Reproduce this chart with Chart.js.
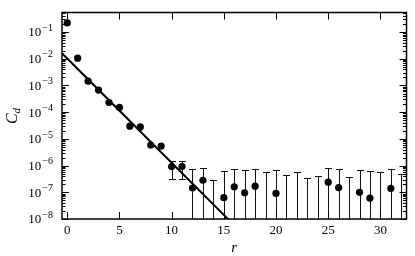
<!DOCTYPE html>
<html>
<head>
<meta charset="utf-8">
<script src="https://cdn.jsdelivr.net/npm/chart.js@4/dist/chart.umd.min.js"></script>
<style>
  html, body { margin: 0; padding: 0; background: #fff; }
  #wrap { width: 415px; height: 256px; }
</style>
</head>
<body>
<div id="wrap"><canvas id="chart" width="415" height="256"></canvas></div>
<script>
// distance r and correlation C_d (null = not plotted on log axis)
const rValues = [0, 1, 2, 3, 4, 5, 6, 7, 8, 9, 10, 11, 12, 13, 14, 15, 16,
  17, 18, 19, 20, 21, 22, 23, 24, 25, 26, 27, 28, 29, 30, 31, 32];
const cdValues = [0.22, 1.05e-2, 1.45e-3, 6.7e-4, 2.3e-4, 1.5e-4, 3.0e-5, 2.8e-5,
  5.9e-6, 5.4e-6, 9.2e-7, 9.2e-7, 1.45e-7, 2.8e-7, null, 6.3e-8, 1.6e-7,
  9.6e-8, 1.7e-7, null, 9.1e-8, null, null, null, null, 2.4e-7, 1.5e-7,
  null, 1.0e-7, 6.0e-8, null, 1.4e-7, null];
const errUpper = [null, null, null, null, null, null, null, null, null, null,
  1.48e-6, 1.48e-6, 7.2e-7, 8.3e-7, 3.0e-7, 6.4e-7, 7.4e-7, 6.8e-7, 7.6e-7,
  5.6e-7, 6.6e-7, 4.3e-7, 5.9e-7, 3.5e-7, 4.1e-7, 8.3e-7, 7.2e-7, 3.6e-7,
  6.9e-7, 6.4e-7, 5.9e-7, 7.2e-7, 4.8e-7];
const errLower = [null, null, null, null, null, null, null, null, null, null,
  3.1e-7, 3.1e-7, 1e-9, 1e-9, 1e-9, 1e-9, 1e-9, 1e-9, 1e-9, 1e-9, 1e-9,
  1e-9, 1e-9, 1e-9, 1e-9, 1e-9, 1e-9, 1e-9, 1e-9, 1e-9, 1e-9, 1e-9, 1e-9];

// fitted exponential decay (end points)
const fitR = [-0.5, 16];
const fitCd = [1.6e-2, 5.8e-9];

const xTicks = [0, 5, 10, 15, 20, 25, 30];
const xTickLabels = ['0', '5', '10', '15', '20', '25', '30'];
const yTicks = [1e-8, 1e-7, 1e-6, 1e-5, 1e-4, 1e-3, 1e-2, 1e-1];
const yTickExponents = ['\u22128', '\u22127', '\u22126', '\u22125', '\u22124', '\u22123', '\u22122', '\u22121'];

const SERIF = '"Liberation Serif", "DejaVu Serif", serif';

const axesPlugin = {
  id: 'axesPlugin',
  beforeDatasetsDraw(chart) {
    const { ctx, chartArea: a, scales: { x, y } } = chart;
    ctx.save();
    ctx.beginPath();
    ctx.rect(a.left, a.top, a.right - a.left, a.bottom - a.top);
    ctx.clip();
    ctx.strokeStyle = '#111';
    ctx.lineWidth = 1;
    rValues.forEach((r, i) => {
      if (errUpper[i] == null) return;
      const px = Math.round(x.getPixelForValue(r)) + 0.5;
      const top = Math.round(y.getPixelForValue(errUpper[i])) + 0.5;
      const bot = Math.round(y.getPixelForValue(errLower[i])) + 0.5;
      ctx.beginPath();
      ctx.moveTo(px, top); ctx.lineTo(px, bot);
      ctx.moveTo(px - 3.5, top); ctx.lineTo(px + 3.5, top);
      ctx.moveTo(px - 3.5, bot); ctx.lineTo(px + 3.5, bot);
      ctx.stroke();
    });
    ctx.restore();
  },
  afterDraw(chart) {
    const { ctx, chartArea: a, scales: { x, y } } = chart;
    ctx.save();
    ctx.strokeStyle = '#000';

    // inside ticks
    ctx.lineWidth = 1;
    ctx.beginPath();
    xTicks.forEach(v => {
      const px = Math.round(x.getPixelForValue(v)) + 0.5;
      ctx.moveTo(px, a.bottom); ctx.lineTo(px, a.bottom - 7);
      ctx.moveTo(px, a.top); ctx.lineTo(px, a.top + 7);
    });
    yTicks.forEach(v => {
      const py = Math.round(y.getPixelForValue(v)) + 0.5;
      ctx.moveTo(a.left, py); ctx.lineTo(a.left + 7, py);
      ctx.moveTo(a.right, py); ctx.lineTo(a.right - 7, py);
      for (let m = 2; m <= 9; m++) {
        const mv = m * v;
        if (mv > y.max) break;
        const my = Math.round(y.getPixelForValue(mv)) + 0.5;
        ctx.moveTo(a.left, my); ctx.lineTo(a.left + 3.5, my);
        ctx.moveTo(a.right, my); ctx.lineTo(a.right - 3.5, my);
      }
    });
    ctx.stroke();

    // frame
    ctx.lineWidth = 1.5;
    ctx.strokeRect(a.left, a.top, a.right - a.left, a.bottom - a.top);

    // tick labels
    ctx.fillStyle = '#000';
    ctx.font = '13px ' + SERIF;
    ctx.textAlign = 'center';
    ctx.textBaseline = 'middle';
    xTicks.forEach((v, i) => {
      ctx.fillText(xTickLabels[i], x.getPixelForValue(v), a.bottom + 12);
    });

    yTicks.forEach((v, i) => {
      const py = y.getPixelForValue(v);
      ctx.font = '10px ' + SERIF;
      const we = ctx.measureText(yTickExponents[i]).width;
      ctx.font = '13px ' + SERIF;
      const wb = ctx.measureText('10').width;
      const x0 = a.left - 10 - we - wb;
      ctx.textAlign = 'left';
      ctx.fillText('10', x0, py + 1);
      ctx.font = '10px ' + SERIF;
      ctx.fillText(yTickExponents[i], x0 + wb + 1, py - 4);
    });

    // axis titles
    ctx.textAlign = 'center';
    ctx.font = 'italic 15px ' + SERIF;
    ctx.fillText('r', (a.left + a.right) / 2, a.bottom + 29);

    ctx.translate(13, (a.top + a.bottom) / 2);
    ctx.rotate(-Math.PI / 2);
    ctx.font = 'italic 16px ' + SERIF;
    const wc = ctx.measureText('C').width;
    ctx.textAlign = 'left';
    ctx.fillText('C', -wc / 2 - 3, 0);
    ctx.font = 'italic 11px ' + SERIF;
    ctx.fillText('d', wc / 2 - 3, 4);
    ctx.restore();
  }
};

const points = [];
rValues.forEach((r, i) => {
  if (cdValues[i] != null) points.push({ x: r, y: cdValues[i] });
});

new Chart(document.getElementById('chart'), {
  type: 'scatter',
  data: {
    datasets: [
      {
        label: 'fit',
        type: 'line',
        data: fitR.map((r, i) => ({ x: r, y: fitCd[i] })),
        borderColor: '#000',
        borderWidth: 2,
        pointRadius: 0,
        fill: false,
        order: 2,
      },
      {
        label: 'C_d',
        data: points,
        backgroundColor: '#000',
        borderWidth: 0,
        pointRadius: 3.6,
        order: 1,
      },
    ],
  },
  options: {
    responsive: false,
    animation: false,
    layout: { padding: { left: 62, top: 12.5, right: 8.5, bottom: 37 } },
    plugins: { legend: { display: false }, tooltip: { enabled: false } },
    scales: {
      x: { type: 'linear', min: -0.5, max: 32.5, display: false },
      y: { type: 'logarithmic', min: 1e-8, max: 0.54, display: false },
    },
  },
  plugins: [axesPlugin],
});
</script>
</body>
</html>
